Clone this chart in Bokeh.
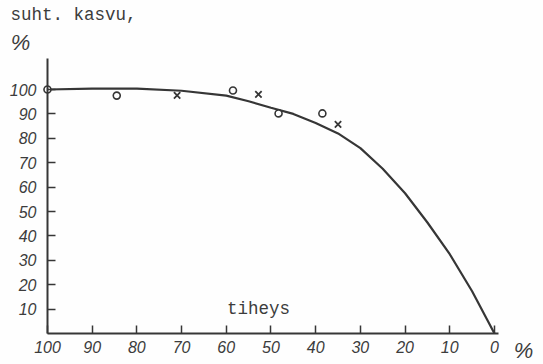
from bokeh.plotting import figure
from bokeh.models import Range1d, FixedTicker, Label, LinearAxis
from bokeh.embed import file_html
from bokeh.resources import INLINE

# Relative growth (%) as a function of stand density (%)
curve_density = [100, 90, 80, 70, 60, 55, 50, 45, 40, 35, 30, 25, 20, 15, 10, 5, 0]
curve_growth = [100, 100.4, 100.4, 99.5, 97.5, 95.2, 92.5, 90, 86.3, 82, 76, 67.5, 57.5, 45.5, 32.5, 17.3, 0]

circle_density = [100, 84.5, 58.5, 48.3, 38.5]
circle_growth = [100, 97.5, 99.6, 90.2, 90.2]

cross_density = [71, 52.8, 35]
cross_growth = [97.6, 98, 85.7]

x_ticks = [0, 10, 20, 30, 40, 50, 60, 70, 80, 90, 100]
y_ticks = [10, 20, 30, 40, 50, 60, 70, 80, 90, 100]

ink = "#363636"
text_ink = "#3c3c3c"
label_font = "Liberation Sans"
mono_font = "Liberation Mono"

# The frame fills the whole canvas; the axes are pinned at density 100 and growth 0
p = figure(width=543, height=364, output_backend="svg", toolbar_location=None,
           x_range=Range1d(110.51, -10.97), y_range=Range1d(-12.70, 136.48),
           x_axis_location=None, y_axis_location=None, min_border=0)
p.outline_line_color = None
p.background_fill_color = "#fefefe"
p.border_fill_color = "#fefefe"
p.xgrid.visible = False
p.ygrid.visible = False

x_axis = LinearAxis(fixed_location=0, bounds=(-0.9, 100),
                    ticker=FixedTicker(ticks=x_ticks), major_label_standoff=7)
y_axis = LinearAxis(fixed_location=100, bounds=(0, 112.7),
                    ticker=FixedTicker(ticks=y_ticks), major_label_standoff=11)
for ax in (x_axis, y_axis):
    ax.axis_line_color = ink
    ax.axis_line_width = 2
    ax.major_tick_line_color = ink
    ax.major_tick_line_width = 1.5
    ax.major_tick_out = 0
    ax.major_tick_in = 8
    ax.minor_tick_line_color = None
    ax.major_label_text_font = label_font
    ax.major_label_text_font_style = "italic"
    ax.major_label_text_font_size = "16px"
    ax.major_label_text_color = text_ink
p.add_layout(x_axis, "below")
p.add_layout(y_axis, "left")

p.line(curve_density, curve_growth, line_color=ink, line_width=2.2)
p.scatter(circle_density, circle_growth, marker="circle", size=7,
          fill_color="#fefefe", line_color=ink, line_width=1.6)
p.scatter(cross_density, cross_growth, marker="x", size=9,
          line_color=ink, line_width=1.8)

p.add_layout(Label(x=108.28, y=130.7, text="suht. kasvu,", text_font=mono_font,
                   text_font_size="17.5px", text_color=text_ink,
                   text_baseline="middle", text_align="left"))
p.add_layout(Label(x=106.04, y=119.3, text="%", text_font=label_font,
                   text_font_style="italic", text_font_size="22px",
                   text_color=text_ink, text_baseline="middle", text_align="center"))
p.add_layout(Label(x=52.8, y=10.0, text="tiheys", text_font=mono_font,
                   text_font_size="17.5px", text_color=text_ink,
                   text_baseline="middle", text_align="center"))
p.add_layout(Label(x=-6.49, y=-6.97, text="%", text_font=label_font,
                   text_font_style="italic", text_font_size="22px",
                   text_color=text_ink, text_baseline="middle", text_align="center"))

open("out.html", "w").write(file_html(p, INLINE))
